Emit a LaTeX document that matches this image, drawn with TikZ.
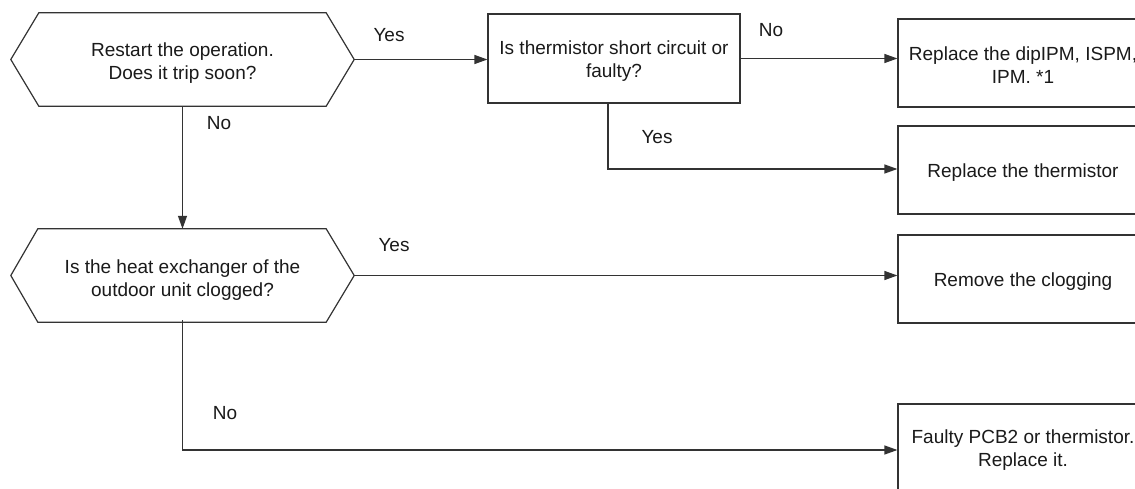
\documentclass[tikz,border=0pt]{standalone}
\usepackage{fontspec}
\setmainfont{Liberation Sans}
\usetikzlibrary{arrows.meta,calc}
\definecolor{ln}{HTML}{333333}
\definecolor{tx}{HTML}{1A1A1A}
\begin{document}
\begin{tikzpicture}[x=1pt,y=-1pt,
  every node/.style={text=tx,font=\fontsize{19}{23}\selectfont,inner sep=0pt},
  hexnode/.style={minimum width=343pt,minimum height=93pt},
  boxnode/.style={draw=ln,line width=1.2pt,minimum width=250pt},
  txt/.style={align=center},
  conn/.style={draw=ln,line width=1.2pt,-{Triangle[length=13pt,width=9pt]}},
  lbl/.style={}
]
\useasboundingbox (0,0) rectangle (1135,489);
\clip (0,0) rectangle (1135,489);
\fill[white] (0,0) rectangle (1135,489);

% hexagon decisions
\node[hexnode] (h1) at (182.5,59.5) {};
\draw[ln,line width=1.2pt] (h1.west) -- ($(h1.north west)+(28,0)$) -- ($(h1.north east)+(-28,0)$)
  -- (h1.east) -- ($(h1.south east)+(-28,0)$) -- ($(h1.south west)+(28,0)$) -- cycle;
\node[txt] (h1t) at ($(h1.center)+(0,4)$) {Restart the operation.\\Does it trip soon?};

\node[hexnode] (h2) at (182.5,275.5) {};
\draw[ln,line width=1.2pt] (h2.west) -- ($(h2.north west)+(27,0)$) -- ($(h2.north east)+(-28,0)$)
  -- (h2.east) -- ($(h2.south east)+(-28,0)$) -- ($(h2.south west)+(27,0)$) -- cycle;
\node[txt] (h2t) at ($(h2.center)+(0,5)$) {Is the heat exchanger of the\\outdoor unit clogged?};

% rectangles
\node[boxnode,minimum width=252pt,minimum height=89pt] (b2) at (614,58.5) {};
\node[txt] (b2t) at ($(b2.center)+(0,3)$) {Is thermistor short circuit or\\faulty?};
\node[boxnode,minimum height=88pt] (r1) at (1023,63) {};
\node[txt] (r1t) at ($(r1.center)+(0,2)$) {Replace the dipIPM, ISPM,\\IPM. *1};
\node[boxnode,minimum height=88pt] (r2) at (1023,170) {};
\node[txt] (r2t) at ($(r2.center)+(0,3)$) {Replace the thermistor};
\node[boxnode,minimum height=88pt] (r3) at (1023,279) {};
\node[txt] (r3t) at ($(r3.center)+(0,3)$) {Remove the clogging};
\node[boxnode,minimum height=92pt] (r4) at (1023,450) {};
\node[txt] (r4t) at ($(r4.center)+(0,0)$) {Faulty PCB2 or thermistor.\\Replace it.};

% connectors
\draw[conn] (h1.east) -- (h1.east -| b2.west);
\draw[conn] (b2.east) -- (b2.east -| r1.west);
\draw[conn] ([xshift=-6pt]b2.south) |- ([yshift=1pt]r2.west);
\draw[conn] (h1.south) -- (h2.north);
\draw[conn] (h2.east) -- (h2.east -| r3.west);
\draw[conn] ([yshift=2pt]h2.south) |- (r4.west);

% labels
\node[lbl] (l1) at (389,35) {Yes};
\node[lbl] (l2) at (771,30) {No};
\node[lbl] (l3) at (657,137) {Yes};
\node[lbl] (l4) at (219,123) {No};
\node[lbl] (l5) at (394,245) {Yes};
\node[lbl] (l6) at (225,413) {No};
\end{tikzpicture}
\end{document}
